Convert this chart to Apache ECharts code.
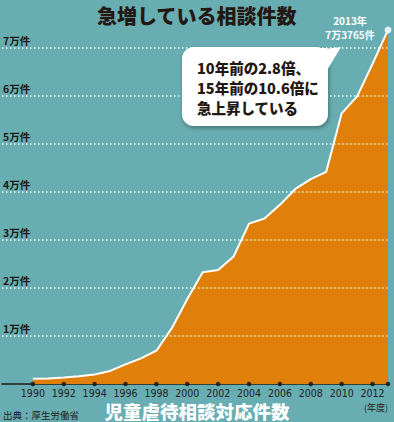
<!DOCTYPE html>
<html><head><meta charset="utf-8">
<script src="https://cdn.jsdelivr.net/npm/echarts@6/dist/echarts.min.js"></script>
<style>html,body{margin:0;padding:0;background:#68adb1;}#c{width:394px;height:422px;}</style>
</head><body><div id="c"></div>
<script>
const years = [1990,1991,1992,1993,1994,1995,1996,1997,1998,1999,2000,2001,2002,2003,2004,2005,2006,2007,2008,2009,2010,2011,2012,2013];
const counts = [1101,1171,1372,1611,1961,2722,4102,5352,6932,11631,17725,23274,23738,26569,33408,34472,37323,40639,42664,44211,56384,59919,66701,73765];
const tickYears = [1990,1992,1994,1996,1998,2000,2002,2004,2006,2008,2010,2012,2013];
const yTickValues = [10000,20000,30000,40000,50000,60000,70000];
const titleText = '急増している相談件数';
const subtitleText = '児童虐待相談対応件数';
const sourceText = '出典：厚生労働省';
const unitText = '(年度)';
const calloutLines = ['10年前の2.8倍、','15年前の10.6倍に','急上昇している'];

const CJK = '"Noto Sans CJK JP", sans-serif';
const dark = '#231812';
const chart = echarts.init(document.getElementById('c'), null, {renderer:'svg'});
const lastYear = years[years.length-1], lastVal = counts[counts.length-1];

chart.setOption({
  backgroundColor:'#68adb1',
  animation:false,
  grid:{left:1,right:6,top:-8,bottom:38},
  xAxis:{type:'value',min:1988,max:2013,interval:2,
    axisLine:{show:true,lineStyle:{color:'#1a1a1a',width:1.5}},
    axisTick:{show:false},splitLine:{show:false},
    axisLabel:{showMinLabel:false,showMaxLabel:false,color:'#222',fontSize:10.5,lineHeight:10,
      fontFamily:'"Liberation Sans Narrow","DejaVu Sans Condensed",sans-serif',margin:4,
      formatter:v=>String(v)}},
  yAxis:{type:'value',min:0,max:80000,interval:10000,
    axisLine:{show:false},axisTick:{show:false},splitLine:{show:false},
    axisLabel:{inside:true,margin:1,verticalAlign:'bottom',align:'left',padding:[0,0,2,0],
      color:dark,fontSize:10.5,fontWeight:'bold',fontFamily:CJK,
      formatter:v=>yTickValues.includes(v)?(v/10000)+'万件':''}},
  series:[
    {type:'line',data:years.map((y,i)=>[y,counts[i]]),symbol:'none',
      lineStyle:{color:'#fff',width:2},areaStyle:{color:'#e07f0a',opacity:1},z:2},
    {type:'scatter',data:tickYears.map(y=>[y,0]),symbolSize:4.5,itemStyle:{color:'#111'},z:5,silent:true,
      markLine:{silent:true,symbol:'none',label:{show:false},
        lineStyle:{color:'rgba(255,255,255,0.9)',width:1.5,type:[1.5,2.5]},
        data:yTickValues.map(v=>({yAxis:v}))}},
    {type:'scatter',data:[[lastYear,lastVal]],symbolSize:7,itemStyle:{color:'#fff'},z:6,silent:true}
  ]
});

const pt = chart.convertToPixel({gridIndex:0},[lastYear,lastVal]);
const man = Math.floor(lastVal/10000), rest = lastVal%10000;
chart.setOption({graphic:[
  {type:'text',left:'center',top:5,style:{text:titleText,fill:dark,font:'900 20px '+CJK}},
  {type:'rect',shape:{x:182,y:47,width:146,height:79,r:12},
    style:{fill:'#fff',shadowBlur:4,shadowColor:'rgba(0,0,0,0.35)',shadowOffsetY:2,shadowOffsetX:1}},
  {type:'polygon',shape:{points:[[316,50],[341,47],[326,72]]},style:{fill:'#fff'}},
  {type:'rect',shape:{x:300,y:48,width:27,height:30},style:{fill:'#fff'}},
  {type:'text',x:197,y:57,style:{text:calloutLines.join('\n'),fill:dark,font:'900 14.5px '+CJK,lineHeight:20}},
  {type:'text',x:pt[0]-38,y:pt[1]-9,style:{text:lastYear+'年',fill:'#fff',font:'bold 10px '+CJK,textAlign:'center',textVerticalAlign:'middle'}},
  {type:'text',x:pt[0]-38,y:pt[1]+4.5,style:{text:man+'万'+rest+'件',fill:'#fff',font:'bold 10px '+CJK,textAlign:'center',textVerticalAlign:'middle'}},
  {type:'text',left:'center',top:401,style:{text:subtitleText,fill:'#fff',font:'900 18.5px '+CJK,lineHeight:19}},
  {type:'text',x:3,y:415,style:{text:sourceText,fill:'#222',font:'9.5px '+CJK,textVerticalAlign:'middle'}},
  {type:'text',x:376,y:407,style:{text:unitText,fill:'#222',font:'9px '+CJK,textAlign:'center',textVerticalAlign:'middle'}}
]});
</script></body></html>
